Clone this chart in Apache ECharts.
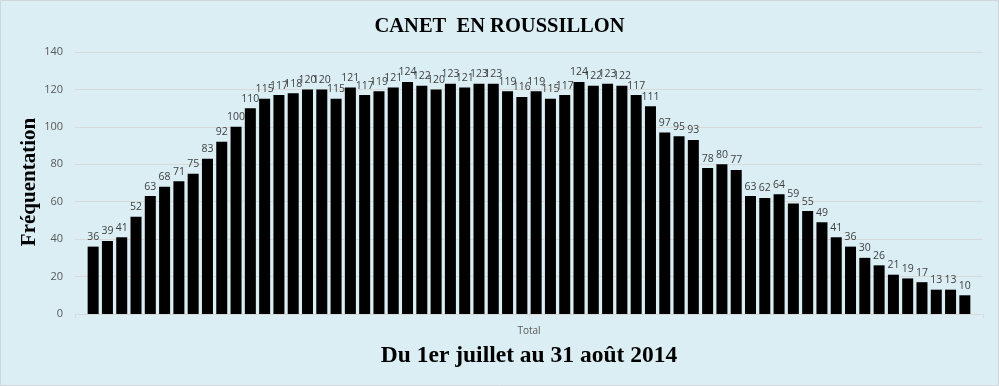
<!DOCTYPE html>
<html><head><meta charset="utf-8">
<script src="https://cdn.jsdelivr.net/npm/echarts@6/dist/echarts.min.js"></script>
<style>html,body{margin:0;padding:0;background:#DAEEF3;}#c{width:999px;height:386px;}</style>
</head><body><div id="c"></div>
<script>
const categories = Array.from({length:62}, (_, i) => i < 31 ? (i+1)+' juil.' : (i-30)+' août');
const values = [36,39,41,52,63,68,71,75,83,92,100,110,115,117,118,120,120,115,121,117,119,121,124,122,120,123,121,123,123,119,116,119,115,117,124,122,123,122,117,111,97,95,93,78,80,77,63,62,64,59,55,49,41,36,30,26,21,19,17,13,13,10];
const yTicks = [0,20,40,60,80,100,120,140];
const chart = echarts.init(document.getElementById('c'), null, {renderer:'canvas'});
const yMin = yTicks[0], yMax = yTicks[yTicks.length-1];
chart.setOption({
  backgroundColor:'#DAEEF3',
  animation:false,
  title:[
    {text:'CANET  EN ROUSSILLON', left:'center', top:11, textStyle:{fontFamily:'Liberation Serif', fontWeight:'bold', fontSize:20.5, color:'#000'}}
  ],
  graphic:[
    {type:'rect', shape:{x:0.5, y:0.5, width:998, height:385}, style:{fill:'none', stroke:'#d0d7db', lineWidth:1}, silent:true},
    {type:'text', x:529, y:331, style:{text:'Total', font:'10px "Open Sans"', fill:'#595959', align:'center', verticalAlign:'middle'}},
    {type:'text', x:529, y:356, style:{text:'Du 1er juillet au 31 août 2014', font:'bold 23.5px "Liberation Serif"', fill:'#000', align:'center', verticalAlign:'middle'}},
    {type:'text', x:30, y:182, rotation:Math.PI/2, style:{text:'Fréquentation', font:'bold 21px "Liberation Serif"', fill:'#000', align:'center', verticalAlign:'middle'}}
  ],
  grid:[
    {left:75, right:16, top:52, bottom:72, containLabel:false},
    {left:86, right:27, top:52, bottom:72, containLabel:false}
  ],
  xAxis:[
    {type:'value', gridIndex:0, min:0, max:2, interval:1, axisLabel:{show:false}, splitLine:{show:false},
      axisTick:{show:true, length:4, lineStyle:{color:'#d9d9d9'}}, axisLine:{show:true, lineStyle:{color:'#d9d9d9'}}},
    {type:'category', gridIndex:1, data:categories, axisLabel:{show:false}, axisTick:{show:false}, axisLine:{show:false}}
  ],
  yAxis:[
    {type:'value', gridIndex:0, min:yMin, max:yMax, interval:20,
      axisLabel:{color:'#595959', fontSize:11, fontFamily:'Open Sans', margin:12},
      splitLine:{lineStyle:{color:'#d9d9d9'}}, axisLine:{show:false}, axisTick:{show:false}},
    {type:'value', gridIndex:1, min:yMin, max:yMax, interval:20, axisLabel:{show:false}, splitLine:{show:false}, axisLine:{show:false}, axisTick:{show:false}}
  ],
  series:[{type:'bar', xAxisIndex:1, yAxisIndex:1, data:values, barCategoryGap:'23%', itemStyle:{color:'#000'},
    label:{show:true, position:'top', distance:4, color:'#404040', fontSize:10.5, fontFamily:'Open Sans'}}]
});
</script></body></html>
